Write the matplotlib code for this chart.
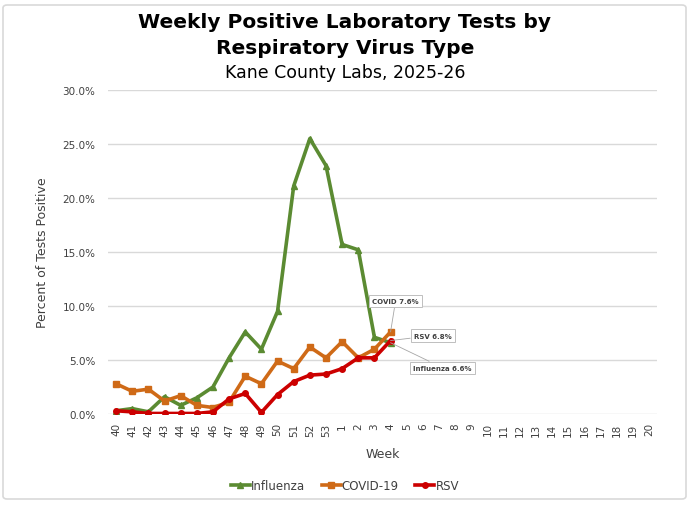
"""
Weekly positive laboratory tests by respiratory virus type (Kane County Labs)
"""

import numpy as np
import matplotlib
matplotlib.use('Agg')
from matplotlib import pyplot as plt
from matplotlib.patches import FancyBboxPatch
from matplotlib.ticker import FuncFormatter

matplotlib.rcParams['font.family'] = 'DejaVu Sans'

# Season weeks (MMWR weeks 40-53, then 1-20)
weeks = [str(w) for w in list(range(40, 54)) + list(range(1, 21))]

# Percent positive (weeks 40 .. 4)
influenza = [0.3, 0.5, 0.2, 1.6, 0.8, 1.5, 2.5, 5.2, 7.6, 6.0, 9.5, 21.1,
             25.5, 23.0, 15.7, 15.2, 7.1, 6.6]
covid = [2.8, 2.1, 2.3, 1.2, 1.7, 0.8, 0.6, 1.1, 3.5, 2.8, 4.9, 4.2,
         6.2, 5.2, 6.7, 5.2, 6.0, 7.6]
rsv = [0.3, 0.2, 0.05, 0.05, 0.05, 0.05, 0.2, 1.4, 1.9, 0.15, 1.8, 3.0,
       3.6, 3.7, 4.2, 5.2, 5.2, 6.8]

greenColor = '#5B8B32'
orangeColor = '#CF6A17'
redColor = '#CC0000'
gridColor = '#D9D9D9'
textColor = '#404040'

fig = plt.figure(figsize=(6.9, 5.06), dpi=100)
W, H = 690.0, 506.0

# light rounded frame around the whole chart
frame = FancyBboxPatch((3/W, 6/H), 683/W, 494/H, transform=fig.transFigure,
                       boxstyle='round,pad=0,rounding_size=0.006',
                       fc='none', ec=gridColor, lw=1.2)
fig.patches.append(frame)

ax = fig.add_axes([108/W, 1 - 415/H, 549/W, 324/H])
ax.set_facecolor('none')
ax.set_zorder(2)

xpos = np.arange(len(weeks))
ax.plot(xpos[:len(influenza)], influenza, '-^', color=greenColor, lw=2.6,
        ms=4, label='Influenza', zorder=3)
ax.plot(xpos[:len(covid)], covid, '-s', color=orangeColor, lw=2.6,
        ms=4.5, label='COVID-19', zorder=3)
ax.plot(xpos[:len(rsv)], rsv, '-o', color=redColor, lw=2.6,
        ms=4, label='RSV', zorder=4)

ax.set_xlim(-0.5, len(weeks) - 0.5)
ax.set_ylim(0, 30)
ax.set_yticks(np.arange(0, 31, 5))
ax.yaxis.set_major_formatter(FuncFormatter(lambda v, p: '{:.1f}%'.format(v)))
ax.set_xticks(xpos)
ax.set_xticklabels(weeks, rotation=90)
ax.tick_params(axis='both', length=0, labelsize=7.5, colors=textColor)
ax.tick_params(axis='x', pad=6)
ax.tick_params(axis='y', pad=9)
ax.grid(axis='y', color=gridColor, lw=1)
ax.set_axisbelow(True)
for sp in ax.spines.values():
    sp.set_visible(False)

ax.set_xlabel('Week', fontsize=9, color=textColor, labelpad=8)
ax.set_ylabel('Percent of Tests Positive', fontsize=9, color=textColor, labelpad=10)

# data labels at the latest week
lastIdx = len(influenza) - 1
labelSpecs = [('COVID', covid[-1], (5, 31)),
              ('RSV', rsv[-1], (42, 5)),
              ('Influenza', influenza[-1], (52, -25))]
for name, val, offset in labelSpecs:
    ax.annotate('{} {:.1f}%'.format(name, val), xy=(lastIdx, val),
                xytext=offset, textcoords='offset pixels',
                ha='center', va='center', fontsize=5, fontweight='bold',
                color=textColor, zorder=6,
                bbox=dict(boxstyle='square,pad=0.45', fc='white', ec='#BFBFBF', lw=0.7),
                arrowprops=dict(arrowstyle='-', color='#A6A6A6', lw=0.6,
                                shrinkA=0, shrinkB=0))

fig.text(0.5, 1 - 22/H, 'Weekly Positive Laboratory Tests by', ha='center',
         va='center', fontsize=14.5, fontweight='bold', color='black')
fig.text(0.5, 1 - 48/H, 'Respiratory Virus Type', ha='center',
         va='center', fontsize=14.5, fontweight='bold', color='black')
fig.text(0.5, 1 - 73/H, 'Kane County Labs, 2025-26', ha='center',
         va='center', fontsize=12.5, color='black')

fig.legend(loc='center', bbox_to_anchor=(345/W, 1 - 487/H), ncol=3,
           frameon=False, fontsize=8.5, handlelength=1.6, handletextpad=0.1,
           columnspacing=1.4, labelcolor=textColor)

fig.savefig('out.png', dpi=100, facecolor='white')
